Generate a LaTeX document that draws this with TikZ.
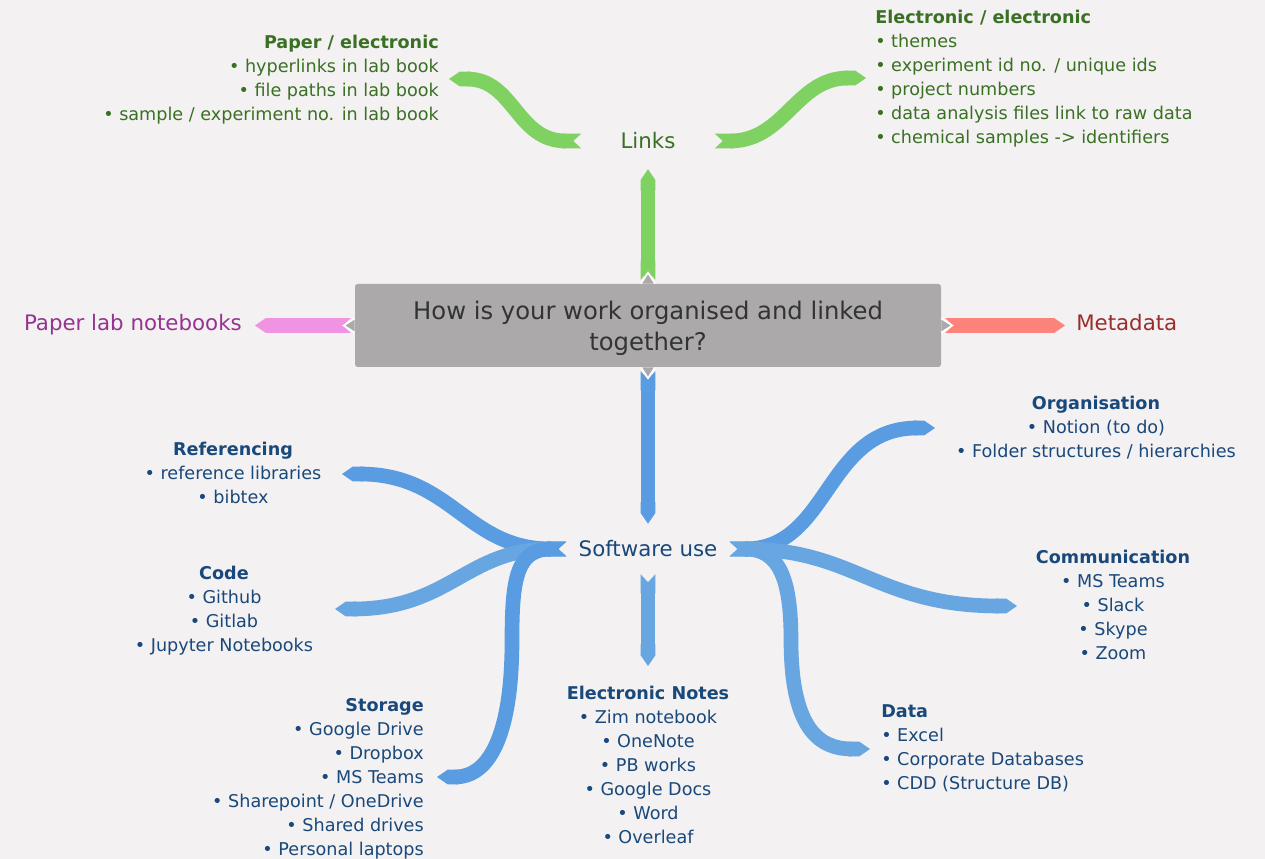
\documentclass[tikz,border=0pt]{standalone}
\usepackage{fontspec}
\setmainfont{DejaVu Sans}
\usepackage{tikz}
\usetikzlibrary{arrows.meta,calc}

\definecolor{bg}{RGB}{243,241,242}
\definecolor{boxgrey}{RGB}{171,169,170}
\definecolor{qtext}{RGB}{51,51,51}
\definecolor{linkgreen}{RGB}{127,209,98}
\definecolor{linktext}{RGB}{58,112,35}
\definecolor{notepink}{RGB}{240,147,226}
\definecolor{notetext}{RGB}{150,50,145}
\definecolor{metared}{RGB}{251,131,122}
\definecolor{metatext}{RGB}{155,45,45}
\definecolor{softblue}{RGB}{90,156,225}
\definecolor{softblueb}{RGB}{104,166,226}
\definecolor{softtext}{RGB}{25,72,122}

\begin{document}
\begin{tikzpicture}[x=0.75pt,y=0.75pt,yscale=-1,
  ribbon/.style={draw=#1, line width=11pt, arrows={Triangle Cap[reversed,length=6pt]-Triangle Cap[length=8pt]}},
  pointer/.style={fill=boxgrey, draw=white, line width=1.2pt, line join=miter},
  hub/.style={text=#1, font=\fontsize{16}{19}\selectfont, inner sep=0pt},
  leaf/.style={text=#1, font=\fontsize{13.2}{18}\selectfont, inner sep=0pt}]
%set diagram to 1265 x 859
\path[fill=bg, use as bounding box] (0,0) rectangle (1265,859);

% Central box
\node[fill=boxgrey, rounded corners=2pt, minimum width=439.5pt, minimum height=62.25pt, inner sep=0pt] (box) at (648,325.5) {};
\node[text=qtext, align=center, inner sep=0pt, font=\fontsize{18.2}{23.25}\selectfont] (question) at (648,328) {How is your work organised and linked\\together?};

% Hub nodes
\node[hub=linktext, minimum width=99.75pt, minimum height=42pt] (links) at (648,141) {Links};
\node[hub=softtext, minimum width=122.25pt, minimum height=37.5pt] (software) at (648,549) {Software use};
\node[hub=notetext, inner xsep=9.75pt, anchor=base east] (paper) at (255,331) {Paper lab notebooks};
\node[hub=metatext, inner xsep=8.25pt, anchor=base west] (meta) at (1065,331) {Metadata};

% Text Nodes
\node[leaf=linktext, align=right, anchor=north east] (paperel) at (439,35) {\textbf{Paper / electronic}\\• hyperlinks in lab book\\• file paths in lab book\\• sample / experiment no. in lab book};
\node[leaf=linktext, align=left, anchor=north west] (elel) at (875,10) {\textbf{Electronic / electronic}\\• themes\\• experiment id no. / unique ids\\• project numbers\\• data analysis files link to raw data\\• chemical samples -> identifiers};
\node[leaf=softtext, align=center, anchor=north] (refs) at (233,442) {\textbf{Referencing}\\• reference libraries\\• bibtex};
\node[leaf=softtext, align=center, anchor=north] (code) at (224,566) {\textbf{Code}\\• Github\\• Gitlab\\• Jupyter Notebooks};
\node[leaf=softtext, align=right, anchor=north east] (storage) at (424,698) {\textbf{Storage}\\• Google Drive\\• Dropbox\\• MS Teams\\• Sharepoint / OneDrive\\• Shared drives\\• Personal laptops};
\node[leaf=softtext, align=center, anchor=north] (notes) at (648,686) {\textbf{Electronic Notes}\\• Zim notebook\\• OneNote\\• PB works\\• Google Docs\\• Word\\• Overleaf};
\node[leaf=softtext, align=center, anchor=north] (organ) at (1096,396) {\textbf{Organisation}\\• Notion (to do)\\• Folder structures / hierarchies};
\node[leaf=softtext, align=center, anchor=north] (comm) at (1113,550) {\textbf{Communication}\\• MS Teams\\• Slack\\• Skype\\• Zoom};
\node[leaf=softtext, align=left, anchor=north west] (data) at (881,704) {\textbf{Data}\\• Excel\\• Corporate Databases\\• CDD (Structure DB)};

% Ribbon tips
\coordinate (paperel-tip) at (449,79);
\coordinate (elel-tip) at (866,78);
\coordinate (refs-tip) at (342,474);
\coordinate (code-tip) at (335,609);
\coordinate (storage-tip) at (437,777);
\coordinate (notes-tip) at (648,666);
\coordinate (organ-tip) at (935,428);
\coordinate (comm-tip) at (1017,606);
\coordinate (data-tip) at (870,749);

% Ribbons from the box
\draw[ribbon=linkgreen] ($(box.north)+(0,-4)$) -- (links.south);
\draw[ribbon=softblue] ($(box.south)+(0,4)$) -- (software.north);
\draw[ribbon=notepink] ($(box.west)+(-4,0)$) -- (box.west -| paper.east);
\draw[ribbon=metared] ($(box.east)+(4,0)$) -- (box.east -| meta.west);
\filldraw[pointer] ($(box.north)+(-7,0)$) -- ++(7,-11) -- ++(7,11);
\filldraw[pointer] ($(box.south)+(-7,0)$) -- ++(7,11) -- ++(7,-11);
\filldraw[pointer] ($(box.west)+(0,-7)$) -- ++(-11,7) -- ++(11,7);
\filldraw[pointer] ($(box.east)+(0,-7)$) -- ++(11,7) -- ++(-11,7);

% Links ribbons
\draw[ribbon=linkgreen] (links.west) .. controls +(-65,0) and +(65,0) .. (paperel-tip);
\draw[ribbon=linkgreen] (links.east) .. controls +(70,0) and +(-70,0) .. (elel-tip);

% Software ribbons
\draw[ribbon=softblue] (software.west) .. controls +(-100,0) and +(110,0) .. (refs-tip);
\draw[ribbon=softblueb] (software.west) .. controls +(-100,0) and +(115,0) .. (code-tip);
\draw[ribbon=softblue] (software.west) .. controls +(-50,0) and +(0,-60) .. (512,640) .. controls +(0,100) and +(50,0) .. (storage-tip);
\draw[ribbon=softblueb] (software.south) -- (notes-tip);
\draw[ribbon=softblue] (software.east) .. controls +(100,0) and +(-110,0) .. (organ-tip);
\draw[ribbon=softblueb] (software.east) .. controls +(125,0) and +(-140,0) .. (comm-tip);
\draw[ribbon=softblueb] (software.east) .. controls +(50,0) and +(0,-60) .. (791,640) .. controls +(0,90) and +(-50,0) .. (data-tip);

\end{tikzpicture}
\end{document}
